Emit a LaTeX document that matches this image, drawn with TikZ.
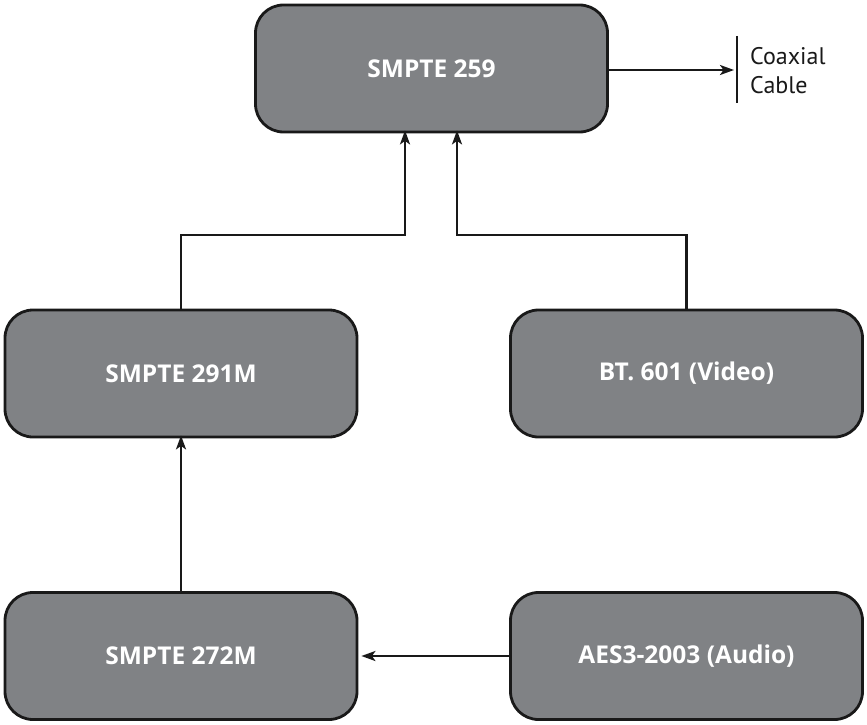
\documentclass[tikz,border=0pt]{standalone}
\usepackage{fontspec}
\setmainfont{PT Sans}
\newfontfamily\boxfont{Open Sans}
\usetikzlibrary{arrows.meta}
\definecolor{boxgray}{HTML}{808285}
\begin{document}
\begin{tikzpicture}[x=1pt,y=-1pt,
  blk/.style={draw=black!90,line width=2.8pt,fill=boxgray,rounded corners=28pt,minimum width=352pt,minimum height=127pt,text=white,font=\boxfont\bfseries\fontsize{24.5}{29}\selectfont,inner sep=0pt},
  conn/.style={line width=2.3pt,draw=black!90,-{Stealth[length=14pt,width=10pt,inset=3.5pt]}}]
\useasboundingbox (0,0) rectangle (867,725);
\node[blk] (s259) at (431.5,68.5) {SMPTE 259};
\node[blk] (s291) at (181,373.5) {SMPTE 291M};
\node[blk] (bt601) at (686.5,373.5) {BT. 601 (Video)};
\node[blk] (s272) at (181,656) {SMPTE 272M};
\node[blk] (aes) at (686.5,656) {AES3-2003 (Audio)};
\coordinate (bar) at (737,70);
\draw[line width=2.8pt,black!90] (737,36) -- (737,103);
\node[anchor=west,align=left,font=\fontsize{24}{29}\selectfont,inner sep=0pt,text=black!90] (coax) at (750,71) {Coaxial\\Cable};
\draw[conn] (s259.east |- bar) -- ([xshift=-3pt]bar);
\draw[conn] (s291.north) |- (405,235) -- ([yshift=3pt]s259.south -| 405,0);
\draw[conn] (bt601.north) |- (457,235) -- ([yshift=3pt]s259.south -| 457,0);
\draw[conn] (s272.north) -- ([yshift=3pt]s291.south);
\draw[conn] (aes.west) -- ([xshift=3pt]s272.east);
\end{tikzpicture}
\end{document}
